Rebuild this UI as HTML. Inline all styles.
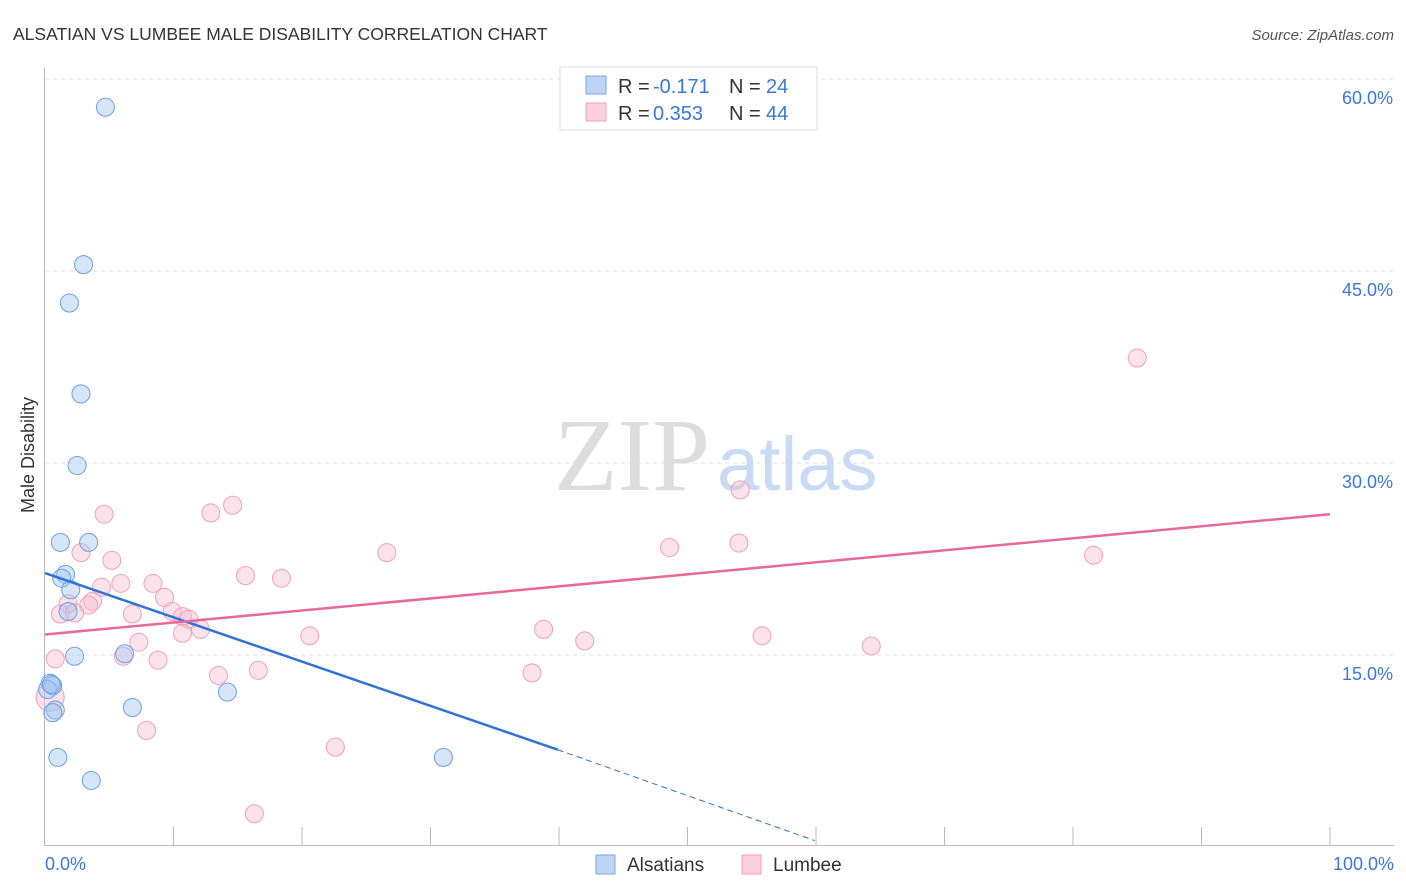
<!DOCTYPE html>
<html><head><meta charset="utf-8"><style>
body{margin:0;background:#fff;font-family:"Liberation Sans",sans-serif;}
</style></head><body>
<svg width="1406" height="892" style="display:block">
<text x="13" y="40" font-size="17.5" fill="#333">ALSATIAN VS LUMBEE MALE DISABILITY CORRELATION CHART</text>
<text x="1394" y="40" font-size="15" fill="#555" font-style="italic" text-anchor="end">Source: ZipAtlas.com</text>
<g id="grid"></g>
<g id="axes"></g>
<text x="554" y="490" font-size="104" fill="#ddd" font-family="Liberation Serif,serif">ZIP</text>
<text x="717" y="490" font-size="76" fill="#c9dbf2">atlas</text>
<g id="marks"></g>
<text transform="translate(34,455) rotate(-90)" font-size="18" fill="#333" text-anchor="middle">Male Disability</text>
<g>
<rect x="560" y="67" width="257" height="63" fill="#fff" stroke="#ddd"/>
<rect x="586" y="76" width="20" height="18" fill="#bcd5f5" stroke="#7aa7e0"/>
<rect x="586" y="103" width="20" height="18" fill="#fbd0dc" stroke="#f0a0b8"/>
<text x="618" y="93" font-size="20" fill="#333">R =</text>
<text x="653" y="93" font-size="20" fill="#3a78d8">-0.171</text>
<text x="729" y="93" font-size="20" fill="#333">N =</text>
<text x="766" y="93" font-size="20" fill="#3a78d8">24</text>
<text x="618" y="120" font-size="20" fill="#333">R =</text>
<text x="653" y="120" font-size="20" fill="#3a78d8">0.353</text>
<text x="729" y="120" font-size="20" fill="#333">N =</text>
<text x="766" y="120" font-size="20" fill="#3a78d8">44</text>
</g>
<g>
<rect x="596" y="855" width="19" height="19" fill="#bcd5f5" stroke="#7aa7e0"/>
<text x="627" y="871" font-size="19" fill="#333">Alsatians</text>
<rect x="742" y="855" width="19" height="19" fill="#fbd0dc" stroke="#f0a0b8"/>
<text x="773" y="871" font-size="19" fill="#333">Lumbee</text>
</g>
</svg>
<script>
const yTicks=[15,30,45,60];
const yTickLabels=["15.0%","30.0%","45.0%","60.0%"];
const xTickLabels=["0.0%","100.0%"];
const alsX=[4.7,3.0,1.9,2.8,2.5,1.2,3.4,1.6,1.3,2.0,1.8,6.2,2.3,0.4,0.6,0.2,0.8,0.6,14.2,6.8,1.0,31.0,3.6,0.5];
const alsY=[57.8,45.5,42.5,35.4,29.8,23.8,23.8,21.3,21.0,20.1,18.4,15.1,14.9,12.8,12.6,12.3,10.7,10.5,12.1,10.9,7.0,7.0,5.2,12.7];
const lumX=[85.0,54.1,14.6,12.9,4.6,54.0,48.6,26.6,2.8,5.2,15.6,18.4,5.9,8.4,4.4,9.3,3.7,1.8,3.4,9.9,10.7,11.2,1.2,2.3,6.8,12.1,10.7,38.8,20.6,42.0,55.8,7.3,64.3,81.6,0.8,6.1,8.8,16.6,13.5,37.9,7.9,22.6,16.3,0.4];
const lumY=[38.2,27.9,26.7,26.1,26.0,23.75,23.4,23.0,23.0,22.4,21.2,21.0,20.6,20.6,20.3,19.5,19.2,19.0,18.9,18.4,18.0,17.8,18.2,18.3,18.2,17.0,16.7,17.0,16.5,16.1,16.5,16.0,15.7,22.8,14.7,14.9,14.6,13.8,13.4,13.6,9.1,7.8,2.6,11.7];
const alsTrend=[21.4,7.6,0.5]; const alsTrendX=[0,39.9,59.9];
const lumTrend=[16.6,26.0]; const lumTrendX=[0,100];
const NS="http://www.w3.org/2000/svg";
const sx=v=>45+v*12.85, sy=v=>847-v*12.8;
function mk(t,a,p){const e=document.createElementNS(NS,t);for(const k in a)e.setAttribute(k,a[k]);p.appendChild(e);return e;}
const grid=document.getElementById('grid'),axes=document.getElementById('axes'),marks=document.getElementById('marks');
yTicks.forEach((t,i)=>{
 const l=mk('line',{x1:45,x2:1394,y1:sy(t),y2:sy(t),stroke:'#e2e2e2','stroke-dasharray':'4,4'},grid);
 
 
 const tx=mk('text',{x:1393,y:sy(t)+25,'font-size':18,fill:'#3a78d8','text-anchor':'end'},grid);
 tx.textContent=yTickLabels[i];
 
 
});
const ya=mk('line',{x1:44.5,x2:44.5,y1:68,y2:846,stroke:'#bbb'},axes);


const xa=mk('line',{x1:44,x2:1394,y1:845.5,y2:845.5,stroke:'#bbb'},axes);


for(let i=1;i<=10;i++){const tk=mk('line',{x1:sx(i*10),x2:sx(i*10),y1:827,y2:845,stroke:'#bbb'},axes);
 
 }
[[0,'start',45],[100,'end',1394]].forEach((d,i)=>{const t=mk('text',{x:d[2],y:870,'font-size':18,fill:'#3a78d8','text-anchor':d[1]},axes);t.textContent=xTickLabels[i];
 
 });
lumX.forEach((x,i)=>{const c=mk('circle',{cx:sx(x),cy:sy(lumY[i]),r:i==43?14:9,fill:'rgba(248,185,205,0.4)',stroke:'#f0a0b8','stroke-width':1},marks);
 
 });
alsX.forEach((x,i)=>{const c=mk('circle',{cx:sx(x),cy:sy(alsY[i]),r:9,fill:'rgba(165,200,242,0.45)',stroke:'#6f9fe0','stroke-width':1},marks);
 
 });
const bl=mk('line',{x1:sx(alsTrendX[0]),y1:sy(alsTrend[0]),x2:sx(alsTrendX[1]),y2:sy(alsTrend[1]),stroke:'#2f72d8','stroke-width':2.5},marks);


const bd=mk('line',{x1:sx(alsTrendX[1]),y1:sy(alsTrend[1]),x2:sx(alsTrendX[2]),y2:sy(alsTrend[2]),stroke:'#2f72d8','stroke-width':1,'stroke-dasharray':'6,4'},marks);


const pl=mk('line',{x1:sx(lumTrendX[0]),y1:sy(lumTrend[0]),x2:sx(lumTrendX[1]),y2:sy(lumTrend[1]),stroke:'#e8689a','stroke-width':2.5},marks);


</script>
</body></html>
